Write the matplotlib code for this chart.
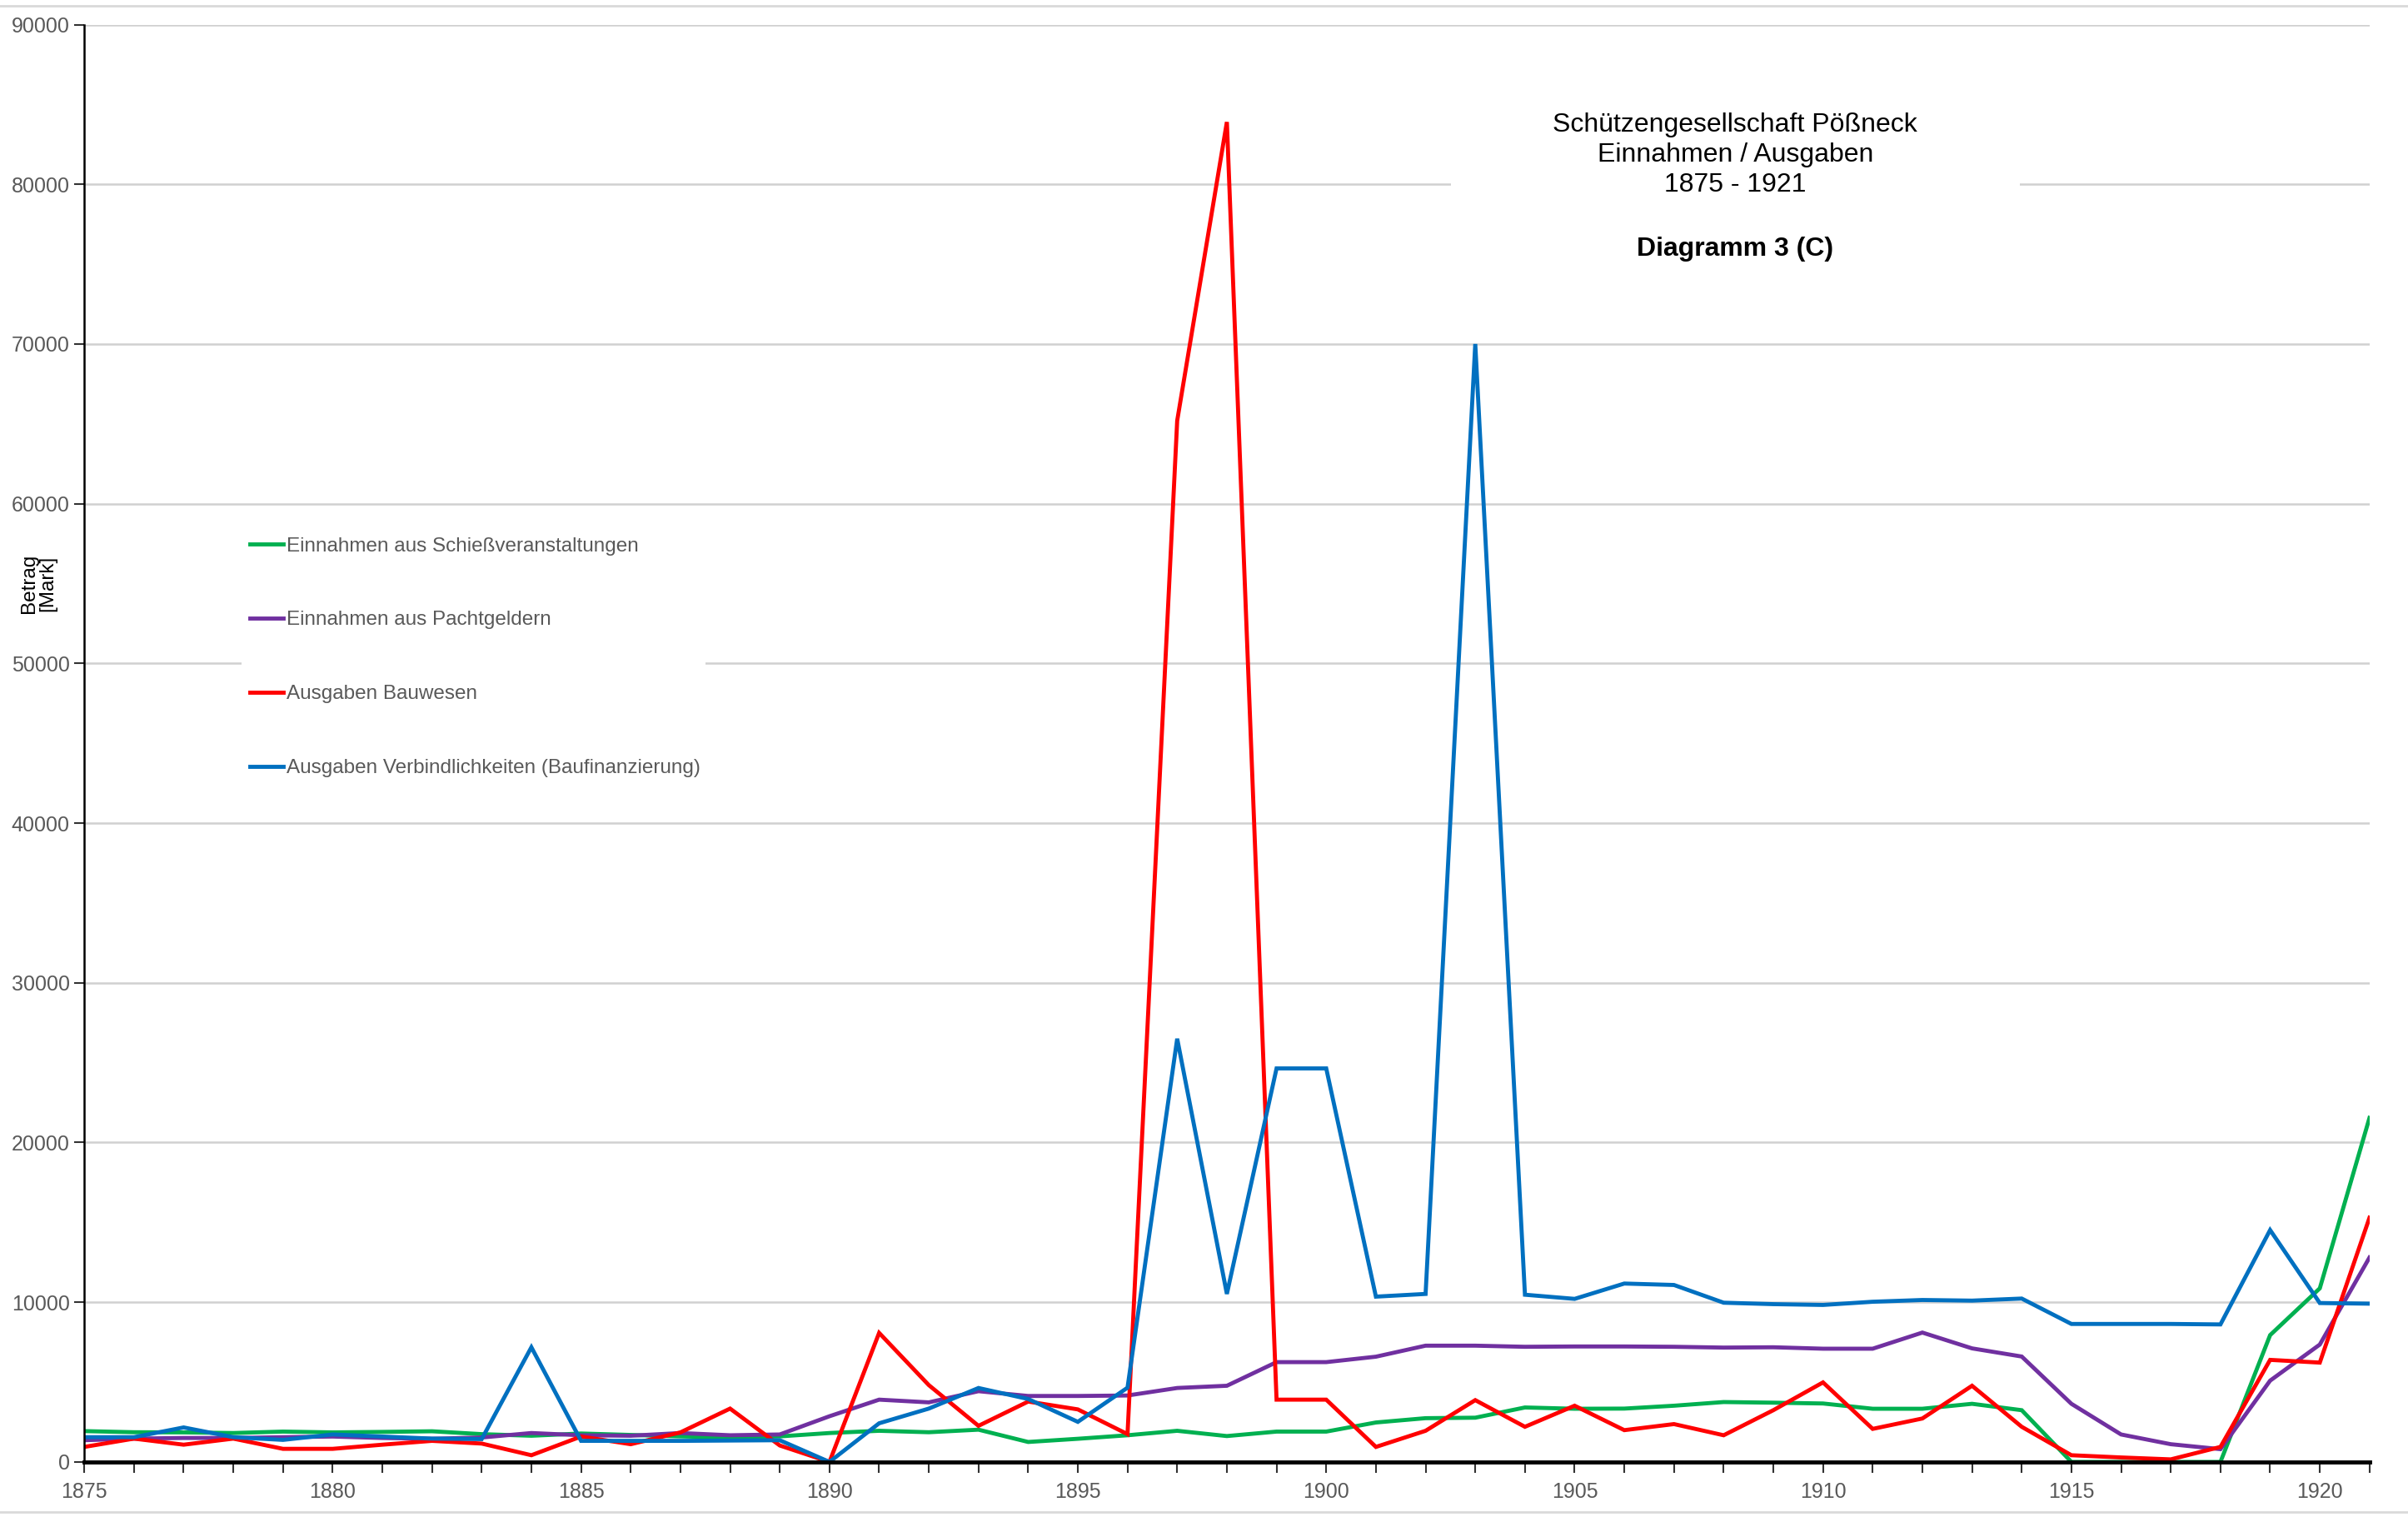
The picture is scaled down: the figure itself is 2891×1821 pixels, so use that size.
import matplotlib
matplotlib.use("Agg")
import matplotlib.pyplot as plt
from matplotlib.patches import Rectangle
from matplotlib.lines import Line2D

plt.rcParams['font.family'] = ['Liberation Sans', 'DejaVu Sans']

years = list(range(1875, 1922))

# Einnahmen aus Schießveranstaltungen
schiess = [1930, 1860, 1850, 1810, 1900, 1850, 1880, 1920, 1740, 1640,
           1780, 1690, 1600, 1530, 1600, 1810, 1950, 1860, 2020, 1250,
           1450, 1670, 1950, 1620, 1900, 1900, 2470, 2740, 2770, 3410,
           3330, 3340, 3520, 3750, 3710, 3660, 3330, 3330, 3640, 3240,
           0, 0, 0, 0, 7940, 10870, 21540]
# Einnahmen aus Pachtgeldern
pacht = [1360, 1460, 1500, 1500, 1550, 1590, 1500, 1450, 1530, 1810,
         1670, 1640, 1810, 1670, 1720, 2860, 3900, 3730, 4430, 4130,
         4130, 4160, 4630, 4770, 6250, 6250, 6590, 7280, 7280, 7210,
         7230, 7230, 7210, 7160, 7180, 7090, 7090, 8100, 7110, 6600,
         3640, 1720, 1110, 800, 5090, 7350, 12800]
# Ausgaben Bauwesen
bau = [940, 1460, 1080, 1460, 820, 820, 1080, 1320, 1150, 420,
       1590, 1110, 1850, 3340, 1030, 0, 8080, 4810, 2260, 3780,
       3290, 1740, 65200, 83900, 3900, 3900, 940, 1950, 3870, 2200,
       3520, 1990, 2370, 1670, 3240, 4980, 2070, 2720, 4770, 2200,
       420, 280, 160, 940, 6390, 6220, 15290]
# Ausgaben Verbindlichkeiten (Baufinanzierung)
verb = [1550, 1550, 2160, 1550, 1380, 1720, 1590, 1460, 1430, 7180,
        1320, 1320, 1320, 1340, 1360, 0, 2420, 3340, 4630, 3940,
        2510, 4650, 26500, 10520, 24640, 24640, 10350, 10520, 70000, 10470,
        10210, 11170, 11080, 9970, 9880, 9830, 10030, 10140, 10100, 10230,
        8640, 8640, 8640, 8610, 14520, 9950, 9910]

labels = ["Einnahmen aus Schießveranstaltungen",
          "Einnahmen aus Pachtgeldern",
          "Ausgaben Bauwesen",
          "Ausgaben Verbindlichkeiten (Baufinanzierung)"]
colors = ["#00B050", "#7030A0", "#FF0000", "#0070C0"]

fig = plt.figure(figsize=(28.91, 18.21), dpi=100)
ax = fig.add_axes([0.035, 0.0363, 0.949, 0.9475])

lines = []
for vals, lab, col in zip([schiess, pacht, bau, verb], labels, colors):
    ln, = ax.plot(years, vals, color=col, lw=3.5, label=lab, zorder=2,
                  solid_joinstyle="miter")
    lines.append(ln)

ax.set_xlim(1875, 1921)
ax.set_ylim(0, 90000)
ax.set_xticks(years)
ax.set_xticklabels([str(y) if y % 5 == 0 else "" for y in years])
ax.set_yticks(range(0, 90001, 10000))
ax.tick_params(axis="both", labelsize=18, labelcolor="#595959", color="#333333",
               length=9, width=1.5, direction="out")
ax.tick_params(axis="x", pad=8)
ax.set_axisbelow(True)
ax.grid(axis="y", color="#d0d0d0", lw=1.8)
for s in ["top", "right"]:
    ax.spines[s].set_visible(False)
ax.spines["left"].set_linewidth(1.8)
ax.spines["bottom"].set_linewidth(3.5)

# white boxes behind title and legend (they cover the gridlines)
ax.add_patch(Rectangle((0.598, 0.819), 0.249, 0.139, transform=ax.transAxes,
                       facecolor="white", edgecolor="none", zorder=1))
ax.add_patch(Rectangle((0.069, 0.455), 0.203, 0.205, transform=ax.transAxes,
                       facecolor="white", edgecolor="none", zorder=1))

leg = ax.legend(handles=lines, loc="upper left", bbox_to_anchor=(0.0726, 0.6435),
                frameon=False, fontsize=17.5, labelcolor="#595959",
                handlelength=1.65, handletextpad=0.15, labelspacing=2.75,
                borderpad=0, borderaxespad=0)

fig.text(0.7206, 0.8978, "Schützengesellschaft Pößneck\nEinnahmen / Ausgaben\n1875 - 1921",
         ha="center", va="center", fontsize=23, linespacing=1.26)
fig.text(0.7206, 0.836, "Diagramm 3 (C)", ha="center", va="center",
         fontsize=23, fontweight="bold")

fig.text(0.016, 0.6156, "Betrag\n[Mark]", rotation=90, ha="center", va="center",
         fontsize=17.5, linespacing=1.0)

# thin grey frame lines at top and bottom of the image
for yy in [0.9962, 0.0033]:
    fig.add_artist(Line2D([0, 1], [yy, yy], transform=fig.transFigure,
                          color="#d9d9d9", lw=2))

fig.savefig("out.png", dpi=100)
